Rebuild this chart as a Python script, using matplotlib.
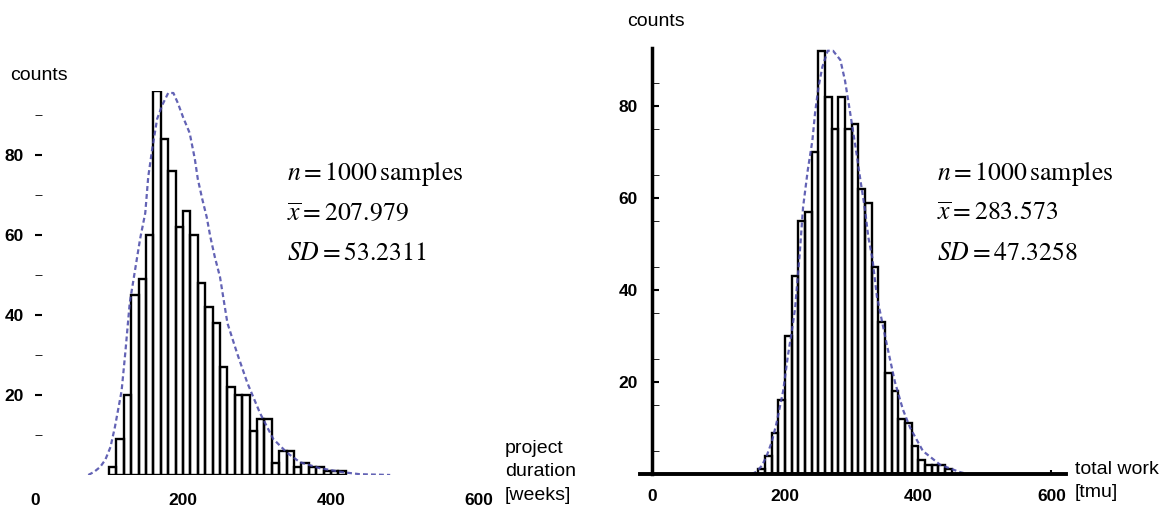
import matplotlib.pyplot as plt

# project duration histogram (bin starts, width 10 weeks)
dur_bins = [100, 110, 120, 130, 140, 150, 160, 170, 180, 190, 200, 210, 220, 230, 240, 250,
            260, 270, 280, 290, 300, 310, 320, 330, 340, 350, 360, 370, 380, 390, 400, 410]
dur_counts = [2, 9, 20, 45, 49, 60, 96, 84, 76, 62, 66, 60, 48, 42, 38, 27,
              22, 20, 20, 11, 14, 14, 3, 6, 6, 2, 3, 2, 2, 1, 1, 1]
# fitted density curve
dur_curve_x = [72, 80, 88, 95, 102, 108, 117, 122, 128, 135, 142, 149, 153, 158, 165, 172, 180,
               187, 193, 200, 209, 216, 220, 226, 232, 237, 243, 250, 260, 273, 287, 304, 322,
               341, 358, 385, 416, 439, 480]
dur_curve_y = [0, 0.8, 2, 3.8, 7, 12, 21, 30.5, 43, 51, 59, 65.5, 74.5, 81, 89, 92.5, 95.5,
               95.5, 93, 89.5, 85.5, 79, 74, 69, 64.5, 59.5, 54.5, 49.5, 38, 30.5, 23, 15.5, 9,
               5.5, 3.2, 1.7, 0.7, 0.2, 0]

# total work histogram (bin starts, width 10 tmu)
work_bins = [160, 170, 180, 190, 200, 210, 220, 230, 240, 250, 260, 270, 280, 290, 300,
             310, 320, 330, 340, 350, 360, 370, 380, 390, 400, 410, 420, 430, 440]
work_counts = [1, 4, 9, 16, 30, 43, 55, 57, 70, 92, 82, 75, 82, 75, 76,
               62, 59, 45, 33, 22, 18, 12, 11, 6, 3, 2, 2, 2, 1]
work_curve_x = [150, 157, 165, 172, 180, 187, 197, 204, 210, 215, 222, 227, 234, 241, 245, 250,
                256, 264, 272, 283, 290, 295, 301, 308, 313, 320, 325, 331, 338, 343, 353, 365,
                377, 388, 407, 433, 463, 474]
work_curve_y = [0, 0.5, 1.8, 3.8, 7, 11, 18, 25.5, 31, 36, 48, 58, 66, 72.5, 78.5, 84,
                88.5, 92, 92, 90, 85.5, 81, 75.5, 69, 64, 57.5, 51.5, 47, 38.5, 35, 28, 20,
                14, 10, 5, 2, 0.4, 0]

dur_stats = ['$n = 1000\\,\\mathrm{samples}$', '$\\overline{x} = 207.979$', '$SD = 53.2311$']
work_stats = ['$n = 1000\\,\\mathrm{samples}$', '$\\overline{x} = 283.573$', '$SD = 47.3258$']

W, H = 1166, 507
plt.rcParams['font.family'] = ['Liberation Sans', 'DejaVu Sans']
plt.rcParams['mathtext.fontset'] = 'stix'

fig = plt.figure(figsize=(W / 100, H / 100), dpi=100)


def px_axes(left, top, right, bottom):
  return fig.add_axes([left / W, 1 - bottom / H, (right - left) / W, (bottom - top) / H])


def draw_hist(ax, bins, counts, cx, cy):
  ax.bar(bins, counts, width=10, align='edge', fill=False, edgecolor='black', linewidth=1.7)
  ax.plot(cx, cy, color='#4848a8', linestyle=(0, (2.2, 1.4)), linewidth=1.6, alpha=0.85)
  ax.tick_params(labelsize=12.5, direction='in', length=4, width=1.5)


# left panel
ax1 = px_axes(35, 91, 479, 475)
draw_hist(ax1, dur_bins, dur_counts, dur_curve_x, dur_curve_y)
ax1.set_xlim(0, 600)
ax1.set_ylim(0, 96)
for s in ax1.spines.values():
  s.set_visible(False)
ax1.set_xticks([0, 200, 400, 600])
ax1.set_yticks([20, 40, 60, 80])
ax1.set_yticks([10, 30, 50, 70, 90], minor=True)
ax1.tick_params(axis='y', which='both', direction='in', length=5, pad=8)
ax1.tick_params(axis='x', pad=13, length=0)

# right panel
ax2 = px_axes(640, 48, 1066, 474)
draw_hist(ax2, work_bins, work_counts, work_curve_x, work_curve_y)
ax2.set_xlim(-18, 622)
ax2.set_ylim(0, 92.6)
ax2.spines['top'].set_visible(False)
ax2.spines['right'].set_visible(False)
ax2.spines['left'].set_position(('data', 0))
ax2.spines['left'].set_linewidth(2.5)
ax2.spines['bottom'].set_linewidth(2.8)
ax2.set_xticks([0, 200, 400, 600])
ax2.set_yticks([20, 40, 60, 80])
ax2.set_yticks(list(range(5, 95, 10)), minor=True)
ax2.tick_params(axis='y', which='both', direction='in', length=5, pad=10)
ax2.tick_params(axis='x', pad=11, length=3)

for ax in (ax1, ax2):
  ax.set_xticklabels(['0', '200', '400', '600'], fontweight='bold')
  ax.set_yticklabels(['20', '40', '60', '80'], fontweight='bold')

# labels
fig.text(10 / W, 1 - 75 / H, 'counts', fontsize=14, va='center', ha='left')
fig.text(627 / W, 1 - 22 / H, 'counts', fontsize=14, va='center', ha='left')
fig.text(505 / W, 1 - 472 / H, 'project\nduration\n[weeks]', fontsize=14,
         va='center', ha='left', linespacing=1.5)
fig.text(1075 / W, 1 - 481 / H, 'total work\n[tmu]', fontsize=14,
         va='center', ha='left', linespacing=1.5)

for i, (a, b) in enumerate(zip(dur_stats, work_stats)):
  y = 1 - (173 + 40 * i) / H
  fig.text(287 / W, y, a, fontsize=18.5, va='center', ha='left')
  fig.text(937 / W, y, b, fontsize=18.5, va='center', ha='left')

fig.savefig('out.png', dpi=100)
